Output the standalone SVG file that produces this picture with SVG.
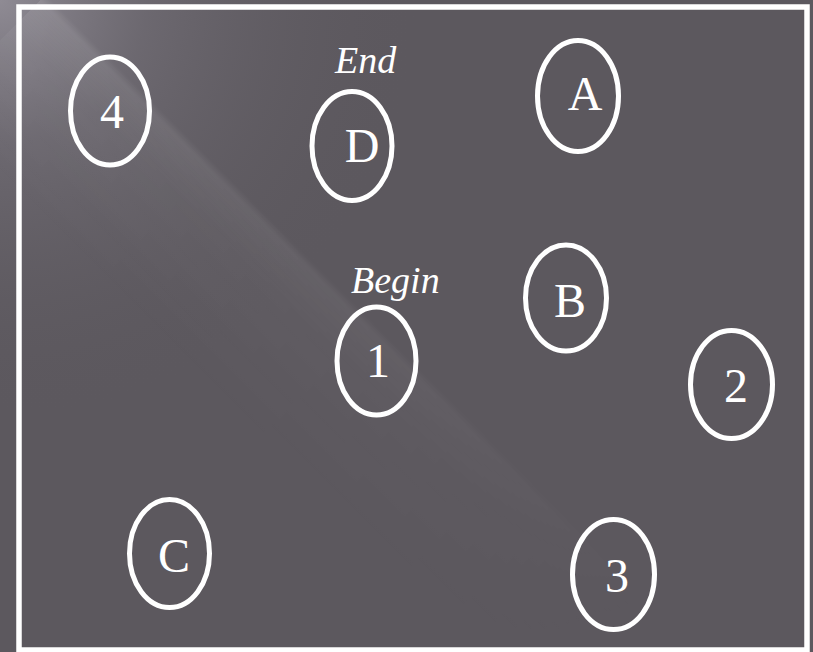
<svg xmlns="http://www.w3.org/2000/svg" width="813" height="652" viewBox="0 0 813 652">
  <defs>
    <radialGradient id="glow" cx="0" cy="0" r="420" gradientUnits="userSpaceOnUse">
      <stop offset="0" stop-color="#a09ca6" stop-opacity="0.75"/>
      <stop offset="0.35" stop-color="#8a8690" stop-opacity="0.35"/>
      <stop offset="1" stop-color="#5c585e" stop-opacity="0"/>
    </radialGradient>
    <linearGradient id="streakPerp" x1="0" y1="0" x2="0" y2="1">
      <stop offset="0" stop-color="#ffffff" stop-opacity="0"/>
      <stop offset="0.05" stop-color="#ffffff" stop-opacity="0.1"/>
      <stop offset="0.3" stop-color="#ffffff" stop-opacity="0.045"/>
      <stop offset="1" stop-color="#ffffff" stop-opacity="0"/>
    </linearGradient>
    <linearGradient id="streakLen" x1="0" y1="0" x2="1" y2="0">
      <stop offset="0" stop-color="#ffffff" stop-opacity="1"/>
      <stop offset="0.45" stop-color="#ffffff" stop-opacity="0.6"/>
      <stop offset="1" stop-color="#ffffff" stop-opacity="0"/>
    </linearGradient>
    <mask id="lenMask" maskUnits="userSpaceOnUse" x="0" y="-20" width="860" height="190">
      <rect x="0" y="-20" width="860" height="190" fill="url(#streakLen)"/>
    </mask>
    <style>
      .node ellipse { fill: none; stroke: #ffffff; stroke-width: 5; }
      .node text { fill: #ffffff; font-family: "Liberation Serif", serif; font-size: 48px; text-anchor: middle; }
      .label { fill: #ffffff; font-family: "Liberation Serif", serif; font-size: 38px; font-style: italic; }
    </style>
  </defs>

  <rect x="0" y="0" width="813" height="652" fill="#5c585e"/>
  <rect x="0" y="0" width="813" height="652" fill="url(#glow)"/>
  <g transform="translate(40,0) rotate(45)">
    <rect x="0" y="-8" width="860" height="160" fill="url(#streakPerp)" mask="url(#lenMask)"/>
  </g>

  <rect x="19" y="7" width="788" height="643" fill="none" stroke="#ffffff" stroke-width="5.5"/>

  <g id="connectors"/>

  <g id="node-4" class="node">
    <ellipse cx="110" cy="111" rx="39.5" ry="54"/>
    <text x="112" y="128">4</text>
  </g>
  <g id="node-D" class="node">
    <ellipse cx="352" cy="146" rx="40" ry="54.5"/>
    <text x="362" y="162">D</text>
  </g>
  <g id="node-A" class="node">
    <ellipse cx="578" cy="96" rx="40.5" ry="55.5"/>
    <text x="585" y="110">A</text>
  </g>
  <g id="node-B" class="node">
    <ellipse cx="566" cy="298" rx="40.5" ry="53"/>
    <text x="570" y="317">B</text>
  </g>
  <g id="node-1" class="node">
    <ellipse cx="376.5" cy="361" rx="39.5" ry="54"/>
    <text x="378" y="377">1</text>
  </g>
  <g id="node-2" class="node">
    <ellipse cx="731.5" cy="384.5" rx="41" ry="54"/>
    <text x="736" y="402">2</text>
  </g>
  <g id="node-C" class="node">
    <ellipse cx="169.5" cy="553.5" rx="40" ry="54"/>
    <text x="174" y="572">C</text>
  </g>
  <g id="node-3" class="node">
    <ellipse cx="613.5" cy="574.5" rx="41" ry="55"/>
    <text x="617" y="592">3</text>
  </g>

  <g id="label-end">
    <text class="label" x="335" y="73">End</text>
  </g>
  <g id="label-begin">
    <text class="label" x="351" y="293">Begin</text>
  </g>
</svg>
